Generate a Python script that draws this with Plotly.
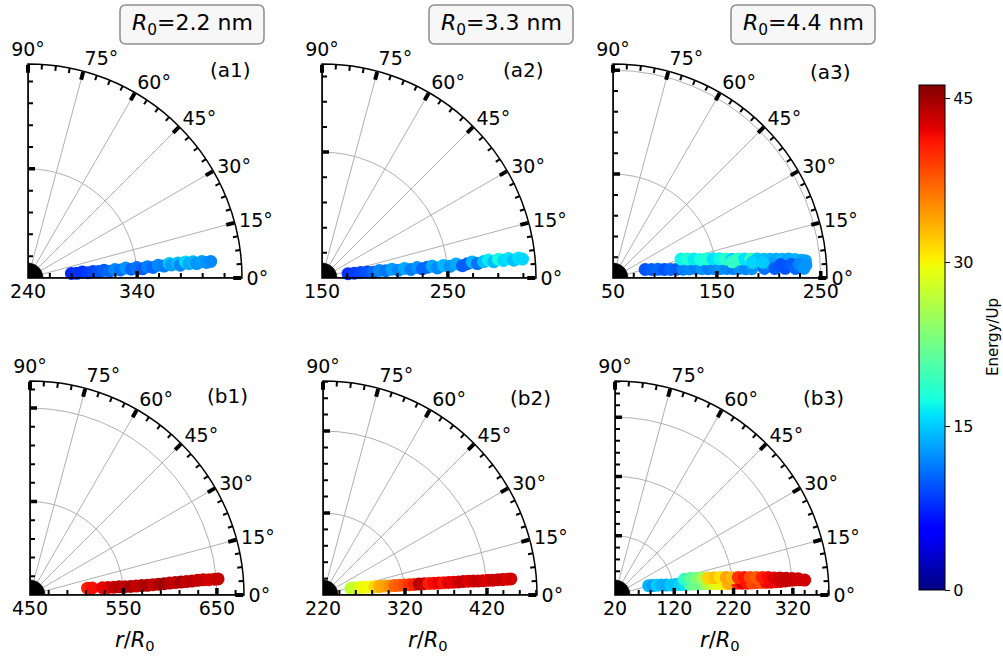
import math
import plotly.graph_objects as go

# ---------------- data: radius r/R0, emission angle (deg), energy (Up) ----------------
a1_r = [280, 285, 290, 295, 300, 305, 310, 315, 320, 325, 330, 335, 340, 345, 350, 355, 360, 365,
        370, 372, 378, 380, 385, 388, 392, 395, 400, 404, 408]
a1_theta = [6.0, 5.5, 6.2, 5.0, 5.8, 5.2, 5.8, 4.8, 5.6, 5.0, 5.8, 4.9, 5.5, 4.6, 5.4, 4.8, 5.6, 5.0,
            5.9, 5.2, 5.7, 4.8, 5.8, 5.1, 5.6, 4.9, 5.4, 5.0, 5.2]
a1_energy = [7.5, 8, 8, 8.5, 9, 9.5, 10, 10.5, 12, 11, 12.5, 10.5, 11, 10, 11.5, 10.5, 12, 11.5,
             15, 13, 14.5, 12, 15.5, 13.5, 14, 12.5, 13, 12.5, 12]

a2_r = [171, 176, 181, 186, 191, 196, 201, 206, 211, 216, 221, 226, 230, 234, 238, 242, 247, 252,
        257, 262, 266, 270, 274, 279, 283, 287, 291, 295, 299, 303, 307, 310]
a2_theta = [9.5, 8.5, 8.0, 7.5, 6.5, 7.5, 6.5, 7.2, 5.8, 6.6, 5.5, 6.3, 5.2, 5.8, 6.2, 5.0, 5.9, 5.2,
            6.0, 5.0, 5.6, 6.1, 5.3, 5.8, 6.2, 5.4, 6.1, 5.5, 6.0, 5.3, 5.8, 5.4]
a2_energy = [8, 8.5, 9, 9.5, 10.5, 12, 11, 13, 12, 13.5, 11.5, 12.5, 10.5, 10.5, 13.5, 12, 14, 12.5,
             13.5, 10, 10, 14, 11, 14.5, 16.5, 14.5, 17.5, 15.5, 16, 14.5, 16, 15.5]

a3_r = [82, 88, 94, 100, 106, 112, 118, 124, 130, 136, 142, 148, 154, 160, 166, 172, 178, 184,
        118, 124, 130, 136, 142, 148, 154, 160, 166, 172, 178, 184, 190, 196, 202, 208, 214, 220,
        226, 232, 236,
        190, 196, 202, 206, 212, 216, 222, 226, 230, 234, 236,
        166, 185, 195]
a3_theta = [14.8, 12.5, 11.0, 9.4, 8.5, 7.8, 7.2, 6.8, 6.6, 6.0, 5.6, 5.3, 5.0, 4.8, 4.5, 4.3, 4.0, 3.8,
            15.6, 14.3, 13.2, 12.0, 11.5, 10.9, 10.2, 9.6, 9.0, 8.6, 8.2, 7.8, 7.5, 7.1, 6.8, 6.6,
            6.3, 6.2, 5.8, 5.4, 5.1,
            5.5, 3.6, 5.0, 3.4, 4.6, 3.2, 4.4, 3.0, 4.2, 2.9, 3.8,
            7.7, 6.4, 6.0]
a3_energy = [9.5, 10, 10.5, 9.5, 10.5, 10, 11.5, 12, 11.5, 12.5, 11.5, 12, 12.5, 12, 11.5, 12.5, 12, 12.5,
             17, 18, 16.5, 17.5, 18, 16, 17, 18.5, 15.5, 19, 16, 19.5, 15, 14.5, 14, 13.5,
             14, 13.5, 14, 13.5, 13,
             12.5, 11, 13, 10, 9.5, 9.5, 10, 10.5, 12, 12.5, 12.5,
             19, 15.5, 15]

b1_r = [512, 517, 528, 534, 540, 546, 552, 558, 564, 570, 576, 582, 588, 594, 600, 606, 612, 618,
        624, 630, 636, 642, 648, 652]
b1_theta = [6.8, 6.4, 5.8, 5.5, 5.3, 5.2, 5.0, 4.9, 4.8, 4.8, 4.7, 4.8, 4.8, 4.8, 4.9, 4.9, 4.9, 4.9,
            4.9, 5.0, 5.0, 4.9, 4.9, 4.9]
b1_energy = [40.5, 41.5, 42, 42.5, 43.5, 44, 43.5, 44.5, 43.5, 44, 44.5, 43.5, 44.5, 45, 44, 43.5,
             44.5, 43.5, 44, 43.5, 43.5, 43, 43, 43.5]

b2_r = [255, 260, 266, 272, 278, 284, 290, 296, 302, 308, 314, 320, 326, 332, 338, 344, 350, 356,
        362, 368, 374, 380, 386, 392, 398, 404, 410, 416, 422, 428, 434, 440, 446, 450]
b2_theta = [13.5, 12.5, 11.5, 10.5, 9.8, 9.0, 8.6, 8.2, 7.8, 7.5, 7.2, 7.0, 6.8, 6.6, 6.5, 6.4, 6.2,
            6.0, 5.9, 5.8, 5.7, 5.6, 5.5, 5.5, 5.4, 5.3, 5.2, 5.1, 5.1, 5.0, 5.0, 4.9, 4.9, 4.9]
b2_energy = [27, 27.5, 29, 30, 29.5, 31.5, 33.5, 34, 35, 37, 37.5, 38.5, 39.5, 40.5, 44, 43.5, 40.5,
             41.5, 42, 41, 42.5, 42, 43, 43.5, 42.5, 43, 43.5, 43, 42.5, 43.5, 43, 43.5, 42.5, 43]

b3_r = [79, 86, 93, 100, 108, 116, 124, 132, 140, 148, 156, 164, 172, 180, 188, 196, 204, 212, 220,
        228, 236, 244, 252, 260, 268, 276, 284, 292, 300, 308, 316, 324, 332, 341,
        140, 150, 160, 170, 180, 190, 200, 210, 220, 230, 240, 250, 260, 270, 280, 290, 300, 310,
        320, 330]
b3_theta = [15.4, 14.0, 13.0, 12.2, 11.0, 10.2, 9.7, 9.0, 8.5, 8.2, 7.8, 7.5, 7.2, 6.9, 6.5, 6.3, 6.0,
            5.8, 5.6, 5.5, 5.3, 5.1, 5.0, 5.0, 4.9, 4.8, 4.7, 4.7, 4.7, 4.7, 4.8, 4.8, 4.7, 4.5,
            12.8, 12.5, 11.6, 11.0, 10.3, 9.8, 9.4, 8.9, 8.4, 8.1, 7.7, 7.4, 7.1, 6.8, 6.5, 6.1,
            5.9, 5.6, 5.3, 5.1]
b3_energy = [14, 13, 15, 14, 13.5, 15, 14.5, 15.5, 16, 21.5, 22.5, 22, 24.5, 26.5, 28.5, 29, 30,
             33.5, 33.5, 40.5, 42.5, 41, 38.5, 39, 38, 41.5, 42, 41.5, 43, 43.5, 43.5, 43, 43.5, 43,
             19, 21.5, 23, 25.5, 31.5, 32.5, 31, 34, 33, 39.5, 41, 38.5, 37.5, 40.5, 41.5, 42.5, 43,
             43.5, 43.5, 43]

# radial ranges and labelled radial ticks of each panel
a1_range, a1_ticks = [240, 436], [240, 340]
a2_range, a2_ticks = [150, 320], [150, 250]
a3_range, a3_ticks = [50, 256], [50, 150, 250]
b1_range, b1_ticks = [450, 679], [450, 550, 650]
b2_range, b2_ticks = [220, 481], [220, 320, 420]
b3_range, b3_ticks = [20, 381], [20, 120, 220, 320]

angle_ticks = [0, 15, 30, 45, 60, 75, 90]
cbar_ticks = [0, 15, 30, 45]
E_MIN, E_MAX = 0, 46.2
radii_labels = ["2.2", "3.3", "4.4"]

# matplotlib-style jet colour map
JET = [[0.0, "rgb(0,0,128)"], [0.11, "rgb(0,0,255)"], [0.125, "rgb(0,0,255)"],
       [0.34, "rgb(0,219,255)"], [0.35, "rgb(0,229,247)"], [0.375, "rgb(20,255,226)"],
       [0.64, "rgb(238,255,8)"], [0.65, "rgb(247,245,0)"], [0.66, "rgb(255,236,0)"],
       [0.89, "rgb(255,18,0)"], [0.91, "rgb(232,0,0)"], [1.0, "rgb(128,0,0)"]]

W, H = 1003, 658
SIDE = 214          # sector radius in px
FONT = "DejaVu Sans"


def px(x):
    return x / W


def py(y):
    return 1 - y / H


panels = [
    dict(name="(a1)", r=a1_r, t=a1_theta, e=a1_energy, rng=a1_range, ticks=a1_ticks, x0=28, y0=278, lab=(230, 70)),
    dict(name="(a2)", r=a2_r, t=a2_theta, e=a2_energy, rng=a2_range, ticks=a2_ticks, x0=322, y0=278, lab=(523, 70)),
    dict(name="(a3)", r=a3_r, t=a3_theta, e=a3_energy, rng=a3_range, ticks=a3_ticks, x0=613, y0=278, lab=(830, 72)),
    dict(name="(b1)", r=b1_r, t=b1_theta, e=b1_energy, rng=b1_range, ticks=b1_ticks, x0=30, y0=595, lab=(227, 396)),
    dict(name="(b2)", r=b2_r, t=b2_theta, e=b2_energy, rng=b2_range, ticks=b2_ticks, x0=323, y0=595, lab=(530, 398)),
    dict(name="(b3)", r=b3_r, t=b3_theta, e=b3_energy, rng=b3_range, ticks=b3_ticks, x0=615, y0=595, lab=(823, 398)),
]

fig = go.Figure()
layout = {}
annotations = []
shapes = []


def seg_trace(sub, rs, ts, width, color="black", fill=None):
    return go.Scatterpolar(r=rs, theta=ts, mode="lines", subplot=sub, cliponaxis=False,
                           line=dict(color=color, width=width), fill=fill,
                           fillcolor=color if fill else None,
                           hoverinfo="skip", showlegend=False)


for i, p in enumerate(panels):
    sub = "polar" if i == 0 else f"polar{i + 1}"
    r0, r1 = p["rng"]
    k = SIDE / (r1 - r0)  # px per radial unit

    fig.add_trace(go.Scatterpolar(
        r=p["r"], theta=p["t"], mode="markers", subplot=sub,
        marker=dict(size=13, color=p["e"], coloraxis="coloraxis", line=dict(width=0)),
        hoverinfo="skip", showlegend=False))

    # edges of the quarter sector
    fig.add_trace(seg_trace(sub, [r0, r1, None, r0, r1], [0, 0, None, 90, 90], 1.5))

    # minor angular ticks every 3.75 deg
    rs, ts = [], []
    for j in range(1, 24):
        a = 3.75 * j
        if abs(a / 15 - round(a / 15)) > 1e-6:
            rs += [r1 - 5 / k, r1, None]
            ts += [a, a, None]
    fig.add_trace(seg_trace(sub, rs, ts, 2))

    # radial ticks on both straight edges, pointing into the sector
    def edge_ticks(vals, length):
        rr, tt = [], []
        for v in vals:
            d = (v - r0) * k
            if d <= 0:
                continue
            rend = r0 + math.hypot(d, length) / k
            ang = math.degrees(math.atan2(length, d))
            rr += [v, rend, None, v, rend, None]
            tt += [0, ang, None, 90, 90 - ang, None]
        return rr, tt

    minors = [v for v in range(int(r0) + 20, int(r1), 20) if (v - r0) % 100 != 0]
    rr, tt = edge_ticks(minors, 5)
    fig.add_trace(seg_trace(sub, rr, tt, 2))
    rr, tt = edge_ticks([v for v in p["ticks"] if v > r0], 7)
    fig.add_trace(seg_trace(sub, rr, tt, 3.5))

    # solid quarter disc at the origin
    rb = r0 + 15 / k
    angs = [a * 5 for a in range(19)]
    fig.add_trace(seg_trace(sub, [r0] + [rb] * len(angs) + [r0], [0] + angs + [0], 0.5, fill="toself"))

    layout[sub] = dict(
        domain=dict(x=[px(p["x0"]), px(p["x0"] + SIDE)], y=[py(p["y0"]), py(p["y0"] - SIDE)]),
        sector=[0, 90],
        bgcolor="white",
        radialaxis=dict(range=[r0, r1], tickvals=p["ticks"], ticktext=[str(v) for v in p["ticks"]],
                        ticks="", showline=False, gridcolor="#b0b0b0", gridwidth=1, angle=0,
                        side="clockwise", tickfont=dict(size=19, color="black", family=FONT)),
        angularaxis=dict(tickvals=angle_ticks, ticktext=[f"{v}°" for v in angle_ticks],
                         ticks="inside", ticklen=8, tickwidth=3.5, tickcolor="black",
                         showline=True, linecolor="black", linewidth=1.5,
                         gridcolor="#b0b0b0", gridwidth=1, rotation=0, direction="counterclockwise",
                         tickfont=dict(size=19, color="black", family=FONT)),
    )

    annotations.append(dict(text=p["name"], x=px(p["lab"][0]), y=py(p["lab"][1]), xref="paper", yref="paper",
                            showarrow=False, xanchor="center", yanchor="middle",
                            font=dict(size=20, color="black", family=FONT)))
    if i >= 3:
        annotations.append(dict(text="<i>r</i>/<i>R</i><sub>0</sub>", x=px(p["x0"] + 105), y=py(641),
                                xref="paper", yref="paper", showarrow=False, xanchor="center",
                                yanchor="middle", font=dict(size=21, color="black", family=FONT)))


def rounded_box(x0, y0, x1, y1, rad):
    X, Y = px, py
    return (f"M {X(x0 + rad)},{Y(y0)} L {X(x1 - rad)},{Y(y0)} Q {X(x1)},{Y(y0)} {X(x1)},{Y(y0 + rad)} "
            f"L {X(x1)},{Y(y1 - rad)} Q {X(x1)},{Y(y1)} {X(x1 - rad)},{Y(y1)} "
            f"L {X(x0 + rad)},{Y(y1)} Q {X(x0)},{Y(y1)} {X(x0)},{Y(y1 - rad)} "
            f"L {X(x0)},{Y(y0 + rad)} Q {X(x0)},{Y(y0)} {X(x0 + rad)},{Y(y0)} Z")


for cx, lab in zip([192, 501, 803], radii_labels):
    shapes.append(dict(type="path", xref="paper", yref="paper",
                       path=rounded_box(cx - 72, 5, cx + 72, 44, 6),
                       fillcolor="#f7f7f7", line=dict(color="#8c8c8c", width=1.5)))
    annotations.append(dict(text=f"<i>R</i><sub>0</sub>={lab} nm", x=px(cx), y=py(24.5),
                            xref="paper", yref="paper", showarrow=False, xanchor="center",
                            yanchor="middle", font=dict(size=22, color="black", family=FONT)))

annotations.append(dict(text="Energy/Up", x=px(993), y=py(337), xref="paper", yref="paper",
                        showarrow=False, textangle=-90, xanchor="center", yanchor="middle",
                        font=dict(size=15, color="black", family=FONT)))

fig.update_layout(
    width=W, height=H,
    margin=dict(l=0, r=0, t=0, b=0),
    paper_bgcolor="white",
    font=dict(family=FONT, color="black"),
    coloraxis=dict(
        colorscale=JET, cmin=E_MIN, cmax=E_MAX,
        colorbar=dict(x=px(919), xanchor="left", xpad=0, y=py(337.5), yanchor="middle", ypad=0,
                      thickness=26, len=505, lenmode="pixels",
                      outlinewidth=1, outlinecolor="black",
                      tickvals=cbar_ticks, ticks="outside", ticklen=5, tickcolor="black",
                      tickfont=dict(size=16, color="black", family=FONT)),
    ),
    annotations=annotations,
    shapes=shapes,
    **layout,
)

fig.write_html("out.html")
